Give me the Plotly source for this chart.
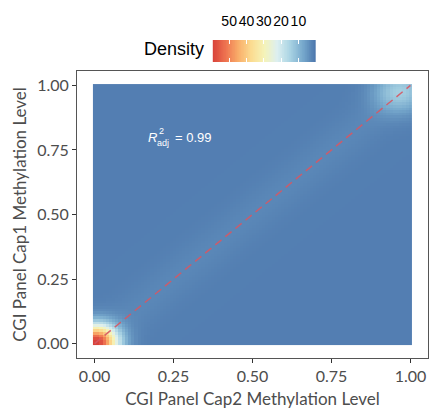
import numpy as np
import plotly.graph_objects as go

# ---- data ----
GRID_N = 100                      # raster resolution of the 2-D density
PEAK_X = [0.005, 0.965]           # density bump centres (Cap2)
PEAK_Y = [0.005, 0.975]           # density bump centres (Cap1)
PEAK_HEIGHT = [58.0, 11.5]        # bump heights (density units)
PEAK_SD = [0.047, 0.055]          # bump spreads
RIDGE_HEIGHT = 1.2                # faint band along the diagonal
RIDGE_SD = 0.05
BASE_DENSITY = 1.5
DENSITY_MIN = 0.0
DENSITY_MAX = 59.5
LEGEND_TICKS = [10, 20, 30, 40, 50]
AXIS_TICKS = [0, 0.25, 0.5, 0.75, 1.0]
AXIS_TICK_TEXT = ["0.00", "0.25", "0.50", "0.75", "1.00"]
IDENTITY_X = [0.0, 1.0]
IDENTITY_Y = [0.0, 1.0]
R2_TEXT = "0.99"

gx = np.linspace(0, 1, GRID_N)
gy = np.linspace(0, 1, GRID_N)
X, Y = np.meshgrid(gx, gy)
Z = np.full_like(X, BASE_DENSITY)
for cx, cy, h, s in zip(PEAK_X, PEAK_Y, PEAK_HEIGHT, PEAK_SD):
    Z += h * np.exp(-((X - cx) ** 2 + (Y - cy) ** 2) / (2 * s ** 2))
Z += RIDGE_HEIGHT * np.exp(-((X - Y) ** 2 / 2) / (2 * RIDGE_SD ** 2))

colorscale = [
    [0.000, "#4A74AB"],
    [0.125, "#76A8CC"],
    [0.250, "#A9D3E3"],
    [0.375, "#DCEFF0"],
    [0.500, "#F5F3B8"],
    [0.625, "#FBDC91"],
    [0.750, "#F9AE6A"],
    [0.875, "#EE7350"],
    [1.000, "#D8423A"],
]

fig = go.Figure()
fig.add_trace(go.Heatmap(
    x=gx, y=gy, z=Z, colorscale=colorscale, zmin=DENSITY_MIN, zmax=DENSITY_MAX,
    zsmooth=False, showscale=False, hoverinfo="skip"))
fig.add_trace(go.Scatter(
    x=IDENTITY_X, y=IDENTITY_Y, mode="lines",
    line=dict(color="rgba(214,88,100,0.9)", width=1.5, dash="8px,5px"),
    hoverinfo="skip", showlegend=False))

# legend colour bar drawn as its own little heatmap
bar_vals = np.linspace(DENSITY_MIN, DENSITY_MAX, 150)
fig.add_trace(go.Heatmap(
    x=bar_vals, y=[0], z=[bar_vals], colorscale=colorscale,
    zmin=DENSITY_MIN, zmax=DENSITY_MAX, showscale=False, hoverinfo="skip",
    xaxis="x2", yaxis="y2"))

axis_font = dict(family="Lato", size=16, color="#4D4D4D")
title_font = dict(family="Lato", size=17, color="#4D4D4D")

fig.update_layout(
    width=431, height=412,
    margin=dict(l=77, r=3, t=10, b=54),
    paper_bgcolor="white", plot_bgcolor="white",
    showlegend=False,
    xaxis=dict(
        domain=[0, 1], range=[-0.0555, 1.0556], tickvals=AXIS_TICKS,
        ticktext=AXIS_TICK_TEXT, ticks="outside", ticklen=4, tickcolor="#333333",
        tickfont=axis_font, showgrid=False, zeroline=False,
        showline=True, linecolor="#555555", linewidth=1, mirror=True,
        title=dict(text="CGI Panel Cap2 Methylation Level", font=title_font, standoff=8),
    ),
    yaxis=dict(
        domain=[0, 0.8247], range=[-0.0555, 1.0556], tickvals=AXIS_TICKS,
        ticktext=AXIS_TICK_TEXT, ticks="outside", ticklen=4, tickcolor="#333333",
        tickfont=axis_font, showgrid=False, zeroline=False,
        showline=True, linecolor="#555555", linewidth=1, mirror=True,
        title=dict(text="CGI Panel Cap1 Methylation Level", font=title_font, standoff=6),
    ),
    xaxis2=dict(
        domain=[0.3866, 0.680], anchor="y2", range=[DENSITY_MAX, DENSITY_MIN],
        side="top", tickvals=LEGEND_TICKS, ticks="inside", ticklen=4,
        tickcolor="white", tickwidth=1, ticklabelstandoff=10, tickangle=0,
        tickfont=dict(family="Liberation Sans", size=14, color="black"),
        showgrid=False, zeroline=False, showline=False, fixedrange=True,
    ),
    xaxis3=dict(
        overlaying="x2", anchor="y2", range=[DENSITY_MAX, DENSITY_MIN],
        side="bottom", tickvals=LEGEND_TICKS, ticks="inside", ticklen=4,
        tickcolor="white", tickwidth=1, showticklabels=False,
        showgrid=False, zeroline=False, showline=False, fixedrange=True,
    ),
    yaxis2=dict(domain=[0.8506, 0.9138], anchor="x2", range=[-0.5, 0.5],
                visible=False, fixedrange=True),
)

# dummy trace so xaxis3 is rendered
fig.add_trace(go.Scatter(x=[DENSITY_MIN], y=[0], xaxis="x3", yaxis="y2",
                         mode="markers", marker=dict(opacity=0),
                         hoverinfo="skip", showlegend=False))

ann_font = dict(family="Liberation Sans", color="white")
fig.add_annotation(x=0.166, y=0.8, xref="x", yref="y", text="<i>R</i>",
                   showarrow=False, xanchor="left", yanchor="middle",
                   borderpad=0, font=dict(size=13, **ann_font))
fig.add_annotation(x=0.166, y=0.8, xref="x", yref="y", text="2",
                   showarrow=False, xanchor="left", yanchor="middle",
                   borderpad=0, xshift=11, yshift=6, font=dict(size=9, **ann_font))
fig.add_annotation(x=0.166, y=0.8, xref="x", yref="y", text="adj",
                   showarrow=False, xanchor="left", yanchor="middle",
                   borderpad=0, xshift=9, yshift=-6, font=dict(size=9, **ann_font))
fig.add_annotation(x=0.166, y=0.8, xref="x", yref="y", text="= " + R2_TEXT,
                   showarrow=False, xanchor="left", yanchor="middle",
                   borderpad=0, xshift=27, font=dict(size=13, **ann_font))

fig.add_annotation(x=0.3675, y=0.888, xref="paper", yref="paper", text="Density",
                   showarrow=False, xanchor="right", yanchor="middle",
                   font=dict(family="Liberation Sans", size=18, color="black"))

fig.write_html("out.html")
